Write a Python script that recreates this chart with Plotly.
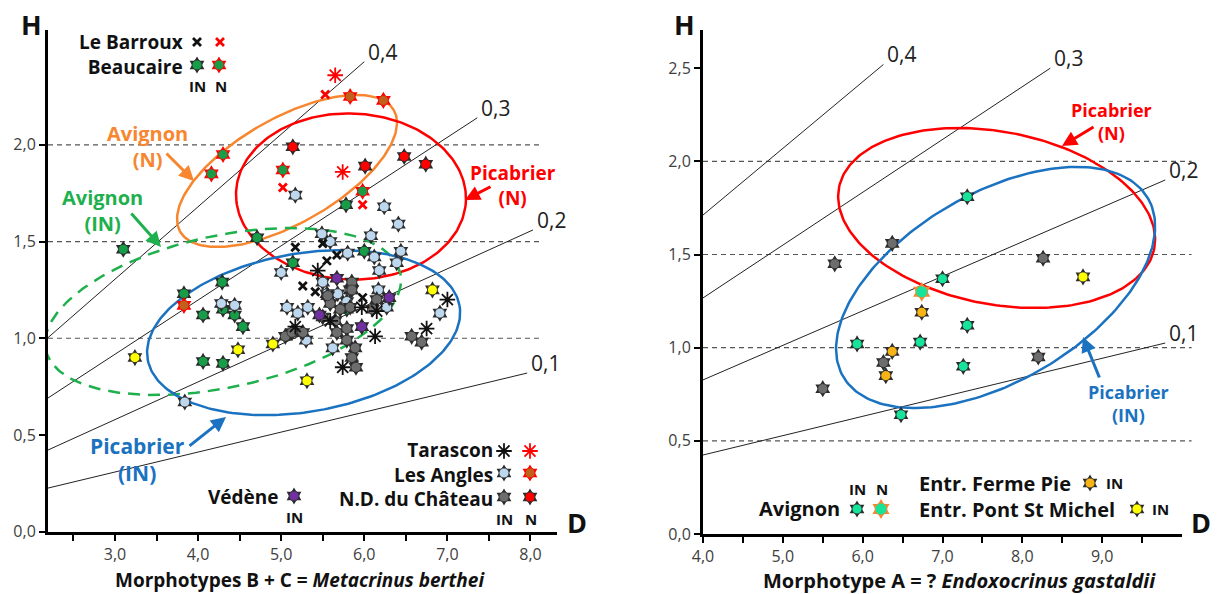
import numpy as np
import plotly.graph_objects as go

FIG_W, FIG_H = 1222, 594
FONT = "Open Sans"

# ---------------- Left panel: Morphotypes B + C (Metacrinus berthei) ----------------
barroux_in_D = [5.17, 5.50, 5.55, 5.67, 5.26, 5.41, 5.98]
barroux_in_H = [1.47, 1.49, 1.40, 1.43, 1.27, 1.24, 1.21]
barroux_n_D = [5.53, 5.02, 5.98]
barroux_n_H = [2.26, 1.78, 1.69]

tarascon_in_D = [5.44, 5.17, 5.59, 5.97, 6.15, 6.13, 5.74, 7.00, 6.75]
tarascon_in_H = [1.35, 1.06, 1.09, 1.16, 1.14, 1.01, 0.85, 1.20, 1.05]
tarascon_n_D = [5.65, 5.74]
tarascon_n_H = [2.36, 1.86]

beaucaire_in_D = [5.78, 5.14, 5.79, 6.00, 4.71, 3.10, 4.29, 3.83, 4.06, 4.30, 4.44, 4.54, 4.06, 4.30]
beaucaire_in_H = [1.69, 1.39, 1.15, 1.45, 1.52, 1.46, 1.29, 1.23, 1.12, 1.15, 1.12, 1.06, 0.88, 0.87]
beaucaire_n_D = [4.30, 4.16, 5.02, 5.98]
beaucaire_n_H = [1.95, 1.85, 1.87, 1.76]

angles_in_D = [5.17, 6.24, 6.41, 6.08, 5.49, 5.59, 5.80, 6.12, 6.44, 6.39, 6.18, 5.00, 5.50, 5.55,
               5.68, 5.83, 5.79, 6.17, 5.32, 5.20, 5.07, 6.27, 6.91, 5.30, 5.62, 4.44, 4.28, 3.84]
angles_in_H = [1.74, 1.68, 1.59, 1.53, 1.54, 1.50, 1.44, 1.42, 1.45, 1.39, 1.35, 1.34, 1.29, 1.23,
               1.23, 1.25, 1.19, 1.25, 1.16, 1.13, 1.16, 1.16, 1.13, 0.99, 0.95, 1.17, 1.18, 0.67]
angles_n_D = [5.83, 6.23, 3.83]
angles_n_H = [2.25, 2.23, 1.17]

chateau_in_D = [5.85, 5.85, 5.59, 5.71, 5.83, 5.65, 5.50, 5.79, 5.67, 5.79, 5.89, 5.85, 5.90,
                6.15, 6.10, 5.26, 5.05, 6.57, 6.69, 5.56, 5.13]
chateau_in_H = [1.29, 1.25, 1.18, 1.15, 1.16, 1.09, 1.11, 1.05, 1.03, 0.99, 0.95, 0.90, 0.85,
                1.20, 1.15, 1.03, 1.01, 1.01, 0.98, 1.22, 1.03]
chateau_n_D = [5.14, 6.01, 6.48, 6.74]
chateau_n_H = [1.99, 1.89, 1.94, 1.90]

vedene_in_D = [5.67, 5.46, 5.97, 6.30]
vedene_in_H = [1.31, 1.12, 1.06, 1.21]

yellow_left_D = [3.24, 4.48, 4.90, 6.82, 5.31]
yellow_left_H = [0.90, 0.94, 0.97, 1.25, 0.78]

# ratio lines H/D (left)
ratio_labels = ["0,1", "0,2", "0,3", "0,4"]
left_ratio_H0 = [0.225, 0.422, 0.691, 1.003]
left_ratio_D1 = [7.96, 8.03, 7.36, 6.00]
left_ratio_H1 = [0.82, 1.56, 2.14, 2.43]

# ellipses (left): centre D, centre H, semi-axes (D units), angle (deg)
left_ell_names = ["Avignon N", "Picabrier N", "Avignon IN", "Picabrier IN"]
left_ell_cD = [5.07, 5.84, 4.30, 5.27]
left_ell_cH = [1.865, 1.733, 1.138, 1.029]
left_ell_a = [1.479, 1.384, 2.183, 1.904]
left_ell_b = [0.633, 0.999, 0.913, 0.953]
left_ell_ang = [29.6, -2.0, 12.2, 9.7]

# ---------------- Right panel: Morphotype A (? Endoxocrinus gastaldii) ----------------
avignon_in_D = [5.93, 6.48, 6.72, 7.31, 7.00, 7.31, 7.26]
avignon_in_H = [1.02, 0.64, 1.03, 1.81, 1.37, 1.12, 0.90]
avignon_n_D = [6.74]
avignon_n_H = [1.30]
ferme_D = [6.37, 6.29, 6.74]
ferme_H = [0.98, 0.85, 1.19]
pont_D = [8.76]
pont_H = [1.38]
gray_right_D = [6.37, 5.65, 6.26, 5.50, 8.26, 8.20]
gray_right_H = [1.56, 1.45, 0.92, 0.78, 1.48, 0.95]

right_ratio_H0 = [0.424, 0.827, 1.267, 1.712]
right_ratio_D1 = [9.79, 9.79, 8.35, 6.26]
right_ratio_H1 = [1.025, 1.90, 2.50, 2.52]

right_ell_cD = [7.678, 7.665]
right_ell_cH = [1.696, 1.323]
right_ell_a = [2.011, 2.212]
right_ell_b = [1.081, 1.175]
right_ell_ang = [-10.9, 30.4]

# ---------------- axis geometry ----------------
L_XDOM = [48 / FIG_W, 557 / FIG_W]
L_XRNG = [2.194, 8.319]
L_YDOM = [(FIG_H - 531.6) / FIG_H, (FIG_H - 30) / FIG_H]
L_YRNG = [0, 2.594]
R_XDOM = [703 / FIG_W, 1182 / FIG_W]
R_XRNG = [4.0, 10.0]
R_YDOM = [(FIG_H - 534) / FIG_H, (FIG_H - 30) / FIG_H]
R_YRNG = [0, 2.705]


def pxscale(dom, rng, total):
    return (dom[1] - dom[0]) * total / (rng[1] - rng[0])


L_SX, L_SY = pxscale(L_XDOM, L_XRNG, FIG_W), pxscale(L_YDOM, L_YRNG, FIG_H)
R_SX, R_SY = pxscale(R_XDOM, R_XRNG, FIG_W), pxscale(R_YDOM, R_YRNG, FIG_H)

# colours
GREEN = "#179c48"
LBLUE = "#bdd7ee"
GRAY = "#6d6d6d"
RED = "#ff0000"
BROWN = "#c0601a"
PURPLE = "#7030a0"
YELLOW = "#ffff00"
GOLD = "#f8b416"
AVGREEN = "#17e39b"
ORANGE = "#f7862f"
EDGE = "#2b2b2b"
BLUE = "#1a72c0"
DGREEN = "#1fb04e"

fig = go.Figure()


def stars(D, H, fill, edge, xa, ya, size=13):
    fig.add_trace(go.Scatter(x=D, y=H, mode="markers", xaxis=xa, yaxis=ya, hoverinfo="skip",
                             showlegend=False,
                             marker=dict(symbol="hexagram", size=size, color=edge, line=dict(width=0))))
    fig.add_trace(go.Scatter(x=D, y=H, mode="markers", xaxis=xa, yaxis=ya, hoverinfo="skip",
                             showlegend=False,
                             marker=dict(symbol="circle", size=size - 3, color=fill,
                                         line=dict(width=0.8, color=edge))))


def xs(D, H, color, xa, ya, size=8):
    fig.add_trace(go.Scatter(x=D, y=H, mode="markers", xaxis=xa, yaxis=ya, hoverinfo="skip",
                             showlegend=False,
                             marker=dict(symbol="x-thin-open", size=size, color=color,
                                         line=dict(width=2.8, color=color))))


def asts(D, H, color, xa, ya, size=13):
    fig.add_trace(go.Scatter(x=D, y=H, mode="markers", xaxis=xa, yaxis=ya, hoverinfo="skip",
                             showlegend=False,
                             marker=dict(symbol="asterisk-open", size=size, color=color,
                                         line=dict(width=1.8, color=color))))


def ellipse(cD, cH, aD, bD, ang, sx, sy, n=240):
    t = np.linspace(0, 2 * np.pi, n)
    a, b = aD * sx, bD * sx
    p = np.radians(ang)
    xp = a * np.cos(t) * np.cos(p) - b * np.sin(t) * np.sin(p)
    yp = a * np.cos(t) * np.sin(p) + b * np.sin(t) * np.cos(p)
    return cD + xp / sx, cH + yp / sy


# ratio lines
for h0, d1, h1 in zip(left_ratio_H0, left_ratio_D1, left_ratio_H1):
    fig.add_trace(go.Scatter(x=[L_XRNG[0], d1], y=[h0, h1], mode="lines", xaxis="x", yaxis="y",
                             line=dict(color="#222", width=1), hoverinfo="skip", showlegend=False))
for h0, d1, h1 in zip(right_ratio_H0, right_ratio_D1, right_ratio_H1):
    fig.add_trace(go.Scatter(x=[R_XRNG[0], d1], y=[h0, h1], mode="lines", xaxis="x2", yaxis="y2",
                             line=dict(color="#222", width=1), hoverinfo="skip", showlegend=False))

# ellipses
left_ell_style = [dict(color=ORANGE, width=2.5), dict(color=RED, width=2.5),
                  dict(color=DGREEN, width=2.5, dash="12px,8px"), dict(color=BLUE, width=2.5)]
for i in range(4):
    ex, ey = ellipse(left_ell_cD[i], left_ell_cH[i], left_ell_a[i], left_ell_b[i], left_ell_ang[i], L_SX, L_SY)
    fig.add_trace(go.Scatter(x=ex, y=ey, mode="lines", xaxis="x", yaxis="y", line=left_ell_style[i],
                             hoverinfo="skip", showlegend=False))
right_ell_style = [dict(color=RED, width=2.5), dict(color=BLUE, width=2.5)]
for i in range(2):
    ex, ey = ellipse(right_ell_cD[i], right_ell_cH[i], right_ell_a[i], right_ell_b[i], right_ell_ang[i], R_SX, R_SY)
    fig.add_trace(go.Scatter(x=ex, y=ey, mode="lines", xaxis="x2", yaxis="y2", line=right_ell_style[i],
                             hoverinfo="skip", showlegend=False))

# left points
stars(yellow_left_D, yellow_left_H, YELLOW, EDGE, "x", "y")
stars(beaucaire_in_D, beaucaire_in_H, GREEN, EDGE, "x", "y")
stars(angles_in_D, angles_in_H, LBLUE, EDGE, "x", "y")
stars(chateau_in_D, chateau_in_H, GRAY, EDGE, "x", "y")
stars(vedene_in_D, vedene_in_H, PURPLE, EDGE, "x", "y")
stars(beaucaire_n_D, beaucaire_n_H, GREEN, RED, "x", "y")
stars(angles_n_D, angles_n_H, BROWN, RED, "x", "y")
stars(chateau_n_D, chateau_n_H, RED, EDGE, "x", "y")
xs(barroux_in_D, barroux_in_H, "#111", "x", "y")
xs(barroux_n_D, barroux_n_H, RED, "x", "y")
asts(tarascon_in_D, tarascon_in_H, "#111", "x", "y")
asts(tarascon_n_D, tarascon_n_H, RED, "x", "y")

# right points
stars(gray_right_D, gray_right_H, GRAY, EDGE, "x2", "y2")
stars(avignon_in_D, avignon_in_H, AVGREEN, EDGE, "x2", "y2")
stars(avignon_n_D, avignon_n_H, AVGREEN, ORANGE, "x2", "y2", size=15)
stars(ferme_D, ferme_H, GOLD, EDGE, "x2", "y2")
stars(pont_D, pont_H, YELLOW, EDGE, "x2", "y2")

# ---------------- legend glyphs on a pixel overlay ----------------
stars([197], [65], GREEN, EDGE, "x3", "y3")
stars([219], [65], GREEN, RED, "x3", "y3")
xs([197], [42], "#111", "x3", "y3")
xs([220], [42], RED, "x3", "y3")
asts([504], [451], "#111", "x3", "y3")
asts([530], [451], RED, "x3", "y3")
stars([504], [473], LBLUE, EDGE, "x3", "y3")
stars([530], [473], BROWN, RED, "x3", "y3")
stars([504], [497], GRAY, EDGE, "x3", "y3")
stars([530], [497], RED, EDGE, "x3", "y3")
stars([294], [496], PURPLE, EDGE, "x3", "y3")
stars([857], [509], AVGREEN, EDGE, "x3", "y3")
stars([881], [509], AVGREEN, ORANGE, "x3", "y3", size=15)
stars([1090], [483], GOLD, EDGE, "x3", "y3")
stars([1137], [509], YELLOW, EDGE, "x3", "y3")

ann = []


def txt(x, y, s, size=19, color="#111", xanchor="center", yanchor="middle", align="center"):
    ann.append(dict(x=x, y=y, xref="x3", yref="y3", text=s, showarrow=False, align=align,
                    font=dict(family=FONT, size=size, color=color), xanchor=xanchor, yanchor=yanchor))


def arrow(x0, y0, x1, y1, color):
    ann.append(dict(x=x1, y=y1, ax=x0, ay=y0, xref="x3", yref="y3", axref="x3", ayref="y3", text="",
                    showarrow=True, arrowhead=2, arrowsize=1, arrowwidth=3, arrowcolor=color))


# left legend text
txt(185, 54, "<b>Le Barroux</b><br><b>Beaucaire</b>", size=19, xanchor="right", align="right")
txt(197, 86, "<b>IN</b>", size=15)
txt(221, 86, "<b>N</b>", size=15)
txt(495, 474, "<b>Tarascon</b><br><b>Les Angles</b><br><b>N.D. du Château</b>", size=19,
    xanchor="right", align="right")
txt(504, 519, "<b>IN</b>", size=15)
txt(531, 519, "<b>N</b>", size=15)
txt(281, 497, "<b>Védène</b>", size=19, xanchor="right")
txt(294, 517, "<b>IN</b>", size=15)
# left region labels
txt(147, 146, "<b>Avignon</b><br><b>(N)</b>", size=20, color=ORANGE)
arrow(165, 152, 194, 181, ORANGE)
txt(102, 210, "<b>Avignon</b><br><b>(IN)</b>", size=20, color=DGREEN)
arrow(130, 212, 161, 247, DGREEN)
txt(513, 185, "<b>Picabrier</b><br><b>(N)</b>", size=19, color=RED)
arrow(492, 186, 465, 200, RED)
txt(137, 459, "<b>Picabrier</b><br><b>(IN)</b>", size=21, color=BLUE)
arrow(188, 447, 226, 417, BLUE)
# axis letters / titles
txt(31, 24, "<b>H</b>", size=27)
txt(577, 522, "<b>D</b>", size=27)
txt(684, 24, "<b>H</b>", size=27)
txt(1201, 522, "<b>D</b>", size=27)
txt(300, 580, "<b>Morphotypes B + C = <i>Metacrinus berthei</i></b>", size=19)
txt(959, 580, "<b>Morphotype A = ? <i>Endoxocrinus gastaldii</i></b>", size=20)
# right labels
txt(1111, 121, "<b>Picabrier</b><br><b>(N)</b>", size=18, color=RED)
arrow(1095, 126, 1062, 146, RED)
txt(1128, 403, "<b>Picabrier</b><br><b>(IN)</b>", size=18, color=BLUE)
arrow(1100, 379, 1083, 337, BLUE)
txt(857, 489, "<b>IN</b>", size=15)
txt(882, 489, "<b>N</b>", size=15)
txt(842, 508, "<b>Avignon</b>", size=20, xanchor="right")
txt(917, 496, "<b>Entr. Ferme Pie</b><br><b>Entr. Pont St Michel</b>", size=20, xanchor="left", align="left")
txt(1104, 483, "<b>IN</b>", size=15, xanchor="left")
txt(1150, 509, "<b>IN</b>", size=15, xanchor="left")

# ratio labels
for lab, d1, h1 in zip(ratio_labels, left_ratio_D1, left_ratio_H1):
    ann.append(dict(x=d1, y=h1, xref="x", yref="y", text=lab, showarrow=False, xanchor="left",
                    yanchor="middle", xshift=2, yshift=10, font=dict(family=FONT, size=21, color="#222")))
for lab, d1, h1 in zip(ratio_labels, right_ratio_D1, right_ratio_H1):
    ann.append(dict(x=d1, y=h1, xref="x2", yref="y2", text=lab, showarrow=False, xanchor="left",
                    yanchor="middle", xshift=2, yshift=10, font=dict(family=FONT, size=21, color="#222")))

# dashed reference lines
shapes = []
for h in [1.0, 1.5, 2.0]:
    shapes.append(dict(type="line", xref="x domain", yref="y", x0=0, x1=0.968, y0=h, y1=h,
                       line=dict(color="#555", width=1.2, dash="5px,4px"), layer="below"))
for h in [0.5, 1.0, 1.5, 2.0]:
    shapes.append(dict(type="line", xref="x2 domain", yref="y2", x0=0, x1=1.02, y0=h, y1=h,
                       line=dict(color="#555", width=1.2, dash="5px,4px"), layer="below"))

tick_font = dict(family=FONT, size=16, color="#404040")
left_xt = [2.5 + 0.5 * i for i in range(12)]
right_xt = [4.0 + 0.5 * i for i in range(12)]


def lab(v):
    return f"{v:.1f}".replace(".", ",")


axis_common = dict(showline=True, linecolor="#000", linewidth=3, ticks="outside", ticklen=6,
                   tickwidth=1.5, tickcolor="#000", showgrid=False, zeroline=False,
                   tickfont=tick_font, fixedrange=True, automargin=False)

fig.update_layout(
    width=FIG_W, height=FIG_H, margin=dict(l=0, r=0, t=0, b=0, pad=0, autoexpand=False),
    paper_bgcolor="white", plot_bgcolor="rgba(0,0,0,0)", showlegend=False,
    font=dict(family=FONT),
    xaxis=dict(domain=L_XDOM, range=L_XRNG, anchor="y", tickmode="array", tickvals=left_xt,
               ticktext=[lab(v) if v == int(v) else "" for v in left_xt], **axis_common),
    yaxis=dict(domain=L_YDOM, range=L_YRNG, anchor="x", tickmode="array",
               tickvals=[0, 0.5, 1, 1.5, 2], ticktext=[lab(v) for v in [0, 0.5, 1, 1.5, 2]], **axis_common),
    xaxis2=dict(domain=R_XDOM, range=R_XRNG, anchor="y2", tickmode="array", tickvals=right_xt,
                ticktext=[lab(v) if v == int(v) else "" for v in right_xt], **axis_common),
    yaxis2=dict(domain=R_YDOM, range=R_YRNG, anchor="x2", tickmode="array",
                tickvals=[0, 0.5, 1, 1.5, 2, 2.5], ticktext=[lab(v) for v in [0, 0.5, 1, 1.5, 2, 2.5]],
                **axis_common),
    xaxis3=dict(domain=[0, 1], range=[0, FIG_W], anchor="y3", visible=False, fixedrange=True, automargin=False),
    yaxis3=dict(domain=[0, 1], range=[FIG_H, 0], anchor="x3", visible=False, fixedrange=True, automargin=False),
    annotations=ann, shapes=shapes,
)

PAGE_FIX = ("var s=document.documentElement.style,b=document.body.style;"
            "s.margin='0';s.padding='0';s.overflow='hidden';s.height='594px';"
            "b.margin='0';b.padding='0';b.overflow='hidden';b.height='594px';")
fig.write_html("out.html", config={"displayModeBar": False}, post_script=PAGE_FIX)
